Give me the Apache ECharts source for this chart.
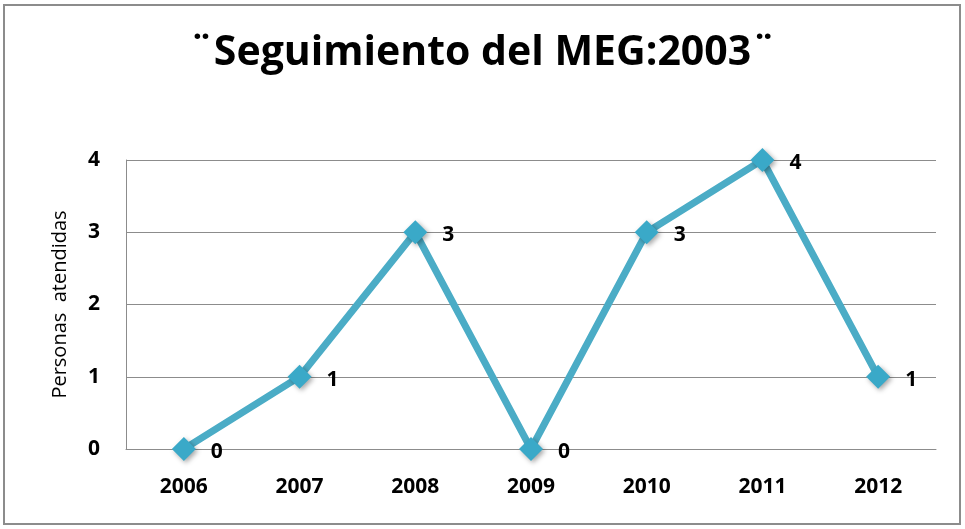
<!DOCTYPE html>
<html>
<head>
<meta charset="utf-8">
<script src="https://cdn.jsdelivr.net/npm/echarts@6/dist/echarts.min.js"></script>
<style>
  html, body { margin: 0; padding: 0; background: #fff; }
  #frame {
    position: absolute; left: 3px; top: 4px; width: 958px; height: 521px;
    border: 2px solid #8c8c8c; box-sizing: border-box;
  }
  #chart { position: absolute; left: 0; top: 0; width: 965px; height: 529px; }
</style>
</head>
<body>
<div id="frame"></div>
<div id="chart"></div>
<script>
const years = ["2006", "2007", "2008", "2009", "2010", "2011", "2012"];
const personas = [0, 1, 3, 0, 3, 4, 1];
const titleText = "¨Seguimiento del MEG:2003¨";
const yName = "Personas  atendidas";

const font = "Open Sans";
const chart = echarts.init(document.getElementById("chart"));

chart.setOption({
    backgroundColor: "transparent",
    title: {
        text: titleText,
        left: "center",
        top: 28,
        textStyle: { fontFamily: font, fontSize: 41, fontWeight: "bold", color: "#000" }
    },
    grid: { left: 126, right: 29, top: 160, bottom: 80 },
    xAxis: {
        type: "category",
        data: years,
        boundaryGap: true,
        axisTick: { show: false },
        axisLine: { lineStyle: { color: "#8c8c8c", width: 1 } },
        axisLabel: { fontFamily: font, fontSize: 21, fontWeight: "bold", color: "#000", margin: 28 }
    },
    yAxis: {
        type: "value",
        min: 0,
        max: 4,
        interval: 1,
        name: yName,
        nameLocation: "middle",
        nameGap: 56,
        nameTextStyle: { fontFamily: font, fontSize: 20, color: "#000" },
        axisLine: { show: true, lineStyle: { color: "#8c8c8c", width: 1 } },
        axisTick: { show: false },
        splitLine: { lineStyle: { color: "#8c8c8c", width: 1 } },
        axisLabel: { fontFamily: font, fontSize: 21, fontWeight: "bold", color: "#000", margin: 26 }
    },
    series: [{
        type: "line",
        data: personas,
        symbol: "diamond",
        symbolSize: 24,
        lineStyle: { color: "#4bacc6", width: 7 },
        itemStyle: {
            color: "#3aa9c8",
            shadowColor: "rgba(0,0,0,0.35)",
            shadowBlur: 5,
            shadowOffsetX: 2,
            shadowOffsetY: 2
        },
        label: {
            show: true,
            position: "right",
            distance: 15,
            offset: [0, 3],
            fontFamily: font,
            fontSize: 21,
            fontWeight: "bold",
            color: "#000"
        },
        emphasis: { disabled: true },
        animation: false
    }]
});
</script>
</body>
</html>
